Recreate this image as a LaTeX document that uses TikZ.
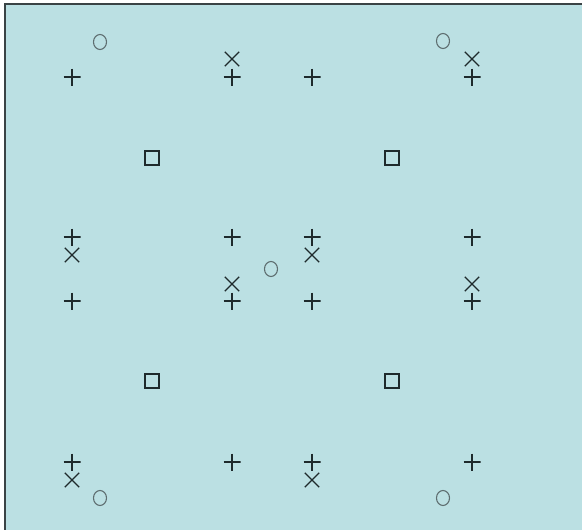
\documentclass[tikz,border=0pt]{standalone}
\usetikzlibrary{shapes.misc,shapes.geometric}
\definecolor{bgcol}{HTML}{BBE0E3}
\definecolor{inkcol}{HTML}{1E2A2C}
\definecolor{ringcol}{HTML}{5E6E70}
\definecolor{framecol}{HTML}{3A4345}
\begin{document}
\begin{tikzpicture}[x=1pt,y=-1pt,
  plusmark/.style={minimum size=17pt,inner sep=0pt,
    path picture={\draw[inkcol,line width=1.5pt]
      (path picture bounding box.north) -- (path picture bounding box.south)
      (path picture bounding box.west) -- (path picture bounding box.east);}},
  crossmark/.style={cross out,draw=inkcol,line width=1.4pt,minimum size=13pt,inner sep=0pt},
  ringmark/.style={ellipse,draw=ringcol,line width=1.1pt,minimum width=13pt,minimum height=15pt,inner sep=0pt},
  sqmark/.style={rectangle,draw=inkcol,line width=1.6pt,minimum size=14pt,inner sep=0pt}]
\useasboundingbox (0,0) rectangle (582,530);
\fill[white] (0,0) rectangle (582,530);
\fill[bgcol] (5,4) rectangle (582,530);
\draw[framecol,line width=2pt] (5,530) -- (5,4) -- (582,4);
% top
\node[ringmark] (o1) at (100,42) {};
\node[ringmark] (o2) at (443,41) {};
\node[crossmark] (x1) at (232,59) {};
\node[crossmark] (x2) at (472,59) {};
\node[plusmark] (p1) at (72,77) {};
\node[plusmark] (p2) at (232,77) {};
\node[plusmark] (p3) at (312,77) {};
\node[plusmark] (p4) at (472,77) {};
% squares
\node[sqmark] (s1) at (152,158) {};
\node[sqmark] (s2) at (392,158) {};
\node[sqmark] (s3) at (152,381) {};
\node[sqmark] (s4) at (392,381) {};
% middle
\node[plusmark] (p5) at (72,237) {};
\node[plusmark] (p6) at (232,237) {};
\node[plusmark] (p7) at (312,237) {};
\node[plusmark] (p8) at (472,237) {};
\node[crossmark] (x3) at (72,255) {};
\node[crossmark] (x4) at (312,255) {};
\node[ringmark] (o3) at (271,269) {};
\node[crossmark] (x5) at (232,284) {};
\node[crossmark] (x6) at (472,284) {};
\node[plusmark] (p9) at (72,301) {};
\node[plusmark] (p10) at (232,301) {};
\node[plusmark] (p11) at (312,301) {};
\node[plusmark] (p12) at (472,301) {};
% bottom
\node[plusmark] (p13) at (72,462) {};
\node[plusmark] (p14) at (232,462) {};
\node[plusmark] (p15) at (312,462) {};
\node[plusmark] (p16) at (472,462) {};
\node[crossmark] (x7) at (72,480) {};
\node[crossmark] (x8) at (312,480) {};
\node[ringmark] (o4) at (100,498) {};
\node[ringmark] (o5) at (443,498) {};
\end{tikzpicture}
\end{document}
